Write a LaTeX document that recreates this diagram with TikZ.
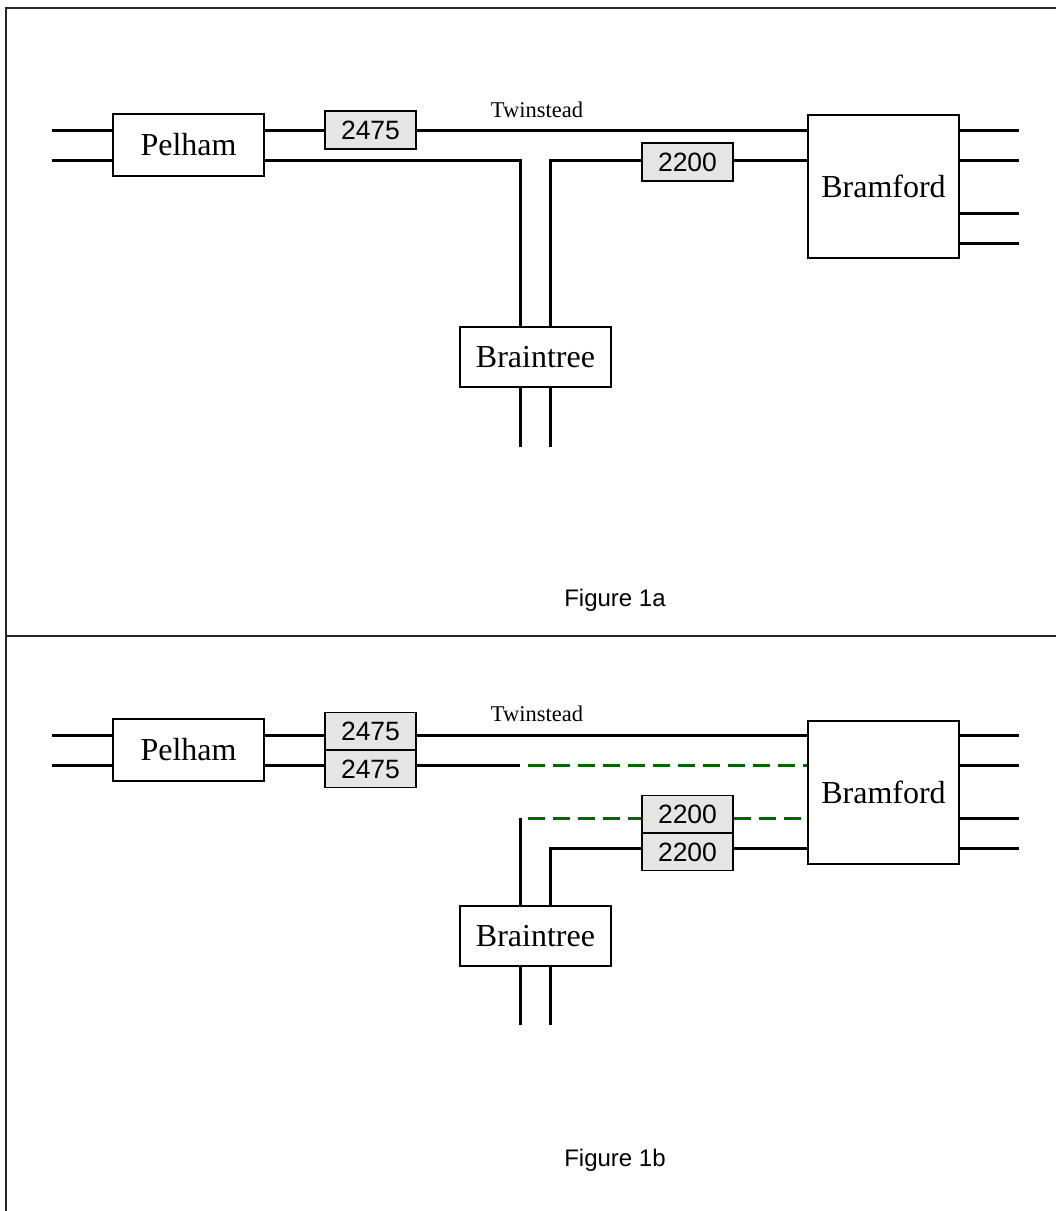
\documentclass[tikz,border=0pt]{standalone}
\usepackage{fontspec}
\setmainfont{Liberation Serif}
\newfontfamily\arialfont{Liberation Sans}
\begin{document}
\begin{tikzpicture}[x=1pt,y=-1pt,
  station/.style={draw, line width=1.2pt, fill=white, inner sep=0pt, minimum width=151pt, font=\fontsize{32}{35}\selectfont},
  circuit/.style={draw, line width=1.2pt, fill=black!10, inner sep=0pt, minimum width=91pt, minimum height=38pt, font=\arialfont\fontsize{26.5}{29}\selectfont},
  wire/.style={line width=3pt},
  newwire/.style={line width=3pt, draw=green!40!black, dash pattern=on 17pt off 8pt},
  frameline/.style={line width=1.8pt, draw=black!85},
  caption/.style={font=\arialfont\fontsize{24}{28}\selectfont, inner sep=0pt},
  smalllabel/.style={font=\fontsize{22.5}{25}\selectfont, inner sep=0pt}]
\useasboundingbox (0,0) rectangle (1056,1211);

% ---------------- frame ----------------
\coordinate (fTL) at (6,8);
\coordinate (fTR) at (1056,8);
\coordinate (fBL) at (6,1211);
\coordinate (fML) at (6,636);
\coordinate (fMR) at (1056,636);
\draw[frameline] (fBL) -- (fTL) -- (fTR);
\draw[frameline] (fML) -- (fMR);

% ================= Figure 1a =================
\node[station, minimum height=62pt] (pelA) at (188.5,145) {Pelham};
\node[station, minimum height=143pt] (bramA) at (883.5,186.5) {Bramford};
\node[station, minimum height=60pt] (braA) at (535.5,357) {Braintree};
\node[circuit] (cA1) at (370.5,130) {2475};
\node[circuit] (cA2) at (687.5,162) {2200};
\node[smalllabel] (twA) at (537,110) {Twinstead};
\node[caption] (figA) at (615,600) {Figure 1a};

\coordinate (aL1) at (52,130);
\coordinate (aL2) at (52,160);
\coordinate (aT1) at (520,160);
\coordinate (aT2) at (550,160);
\coordinate (aB1) at (520,447);
\coordinate (aB2) at (550,447);
\coordinate (aR1) at (1019,130);
\coordinate (aR2) at (1019,160);
\coordinate (aR3) at (1019,213);
\coordinate (aR4) at (1019,243);

\draw[wire] (aL1) -- (aL1 -| pelA.west);
\draw[wire] (aL2) -- (aL2 -| pelA.west);
\draw[wire] (pelA.east |- aL1) -- (cA1.west);
\draw[wire] (cA1.east) -- (bramA.west |- cA1.east);
\draw[wire] (pelA.east |- aT1) -- (aT1) -- (aT1 |- braA.north);
\draw[wire] (bramA.west |- aT2) -- (cA2.east |- aT2);
\draw[wire] (cA2.west |- aT2) -- (aT2) -- (aT2 |- braA.north);
\draw[wire] (aB1 |- braA.south) -- (aB1);
\draw[wire] (aB2 |- braA.south) -- (aB2);
\foreach \r in {aR1,aR2,aR3,aR4}
  \draw[wire] (bramA.east |- \r) -- (\r);

% ================= Figure 1b =================
\node[station, minimum height=62pt] (pelB) at (188.5,750) {Pelham};
\node[station, minimum height=143pt] (bramB) at (883.5,792.5) {Bramford};
\node[station, minimum height=60pt] (braB) at (535.5,936) {Braintree};
\node[circuit, minimum height=37pt, anchor=south] (cB1) at (370.5,750) {2475};
\node[circuit, minimum height=37pt, anchor=north] (cB2) at (370.5,750) {2475};
\node[circuit, minimum height=37pt, anchor=south] (cB3) at (687.5,833) {2200};
\node[circuit, minimum height=37pt, anchor=north] (cB4) at (687.5,833) {2200};
\node[smalllabel] (twB) at (537,714) {Twinstead};
\node[caption] (figB) at (615,1160) {Figure 1b};

\coordinate (bL1) at (52,735);
\coordinate (bL2) at (52,765);
\coordinate (bS1) at (520,765);
\coordinate (bD1) at (528,765);
\coordinate (bT1) at (520,818);
\coordinate (bD2) at (528,818);
\coordinate (bT2) at (550,848);
\coordinate (bB1) at (520,1025);
\coordinate (bB2) at (550,1025);
\coordinate (bR1) at (1019,735);
\coordinate (bR2) at (1019,765);
\coordinate (bR3) at (1019,818);
\coordinate (bR4) at (1019,848);

\draw[wire] (bL1) -- (bL1 -| pelB.west);
\draw[wire] (bL2) -- (bL2 -| pelB.west);
\draw[wire] (pelB.east |- bL1) -- (cB1.west |- bL1);
\draw[wire] (pelB.east |- bL2) -- (cB2.west |- bL2);
\draw[wire] (cB1.east |- bL1) -- (bramB.west |- bL1);
\draw[wire] (cB2.east |- bL2) -- (bS1);
\draw[newwire] (bD1) -- (bramB.west |- bD1);
\draw[newwire] (bD2) -- (cB3.west |- bD2);
\draw[newwire] (cB3.east |- bD2) -- (bramB.west |- bD2);
\draw[wire] (bT1) -- (bT1 |- braB.north);
\draw[wire] (bramB.west |- bT2) -- (cB4.east |- bT2);
\draw[wire] (cB4.west |- bT2) -- (bT2) -- (bT2 |- braB.north);
\draw[wire] (bB1 |- braB.south) -- (bB1);
\draw[wire] (bB2 |- braB.south) -- (bB2);
\foreach \r in {bR1,bR2,bR3,bR4}
  \draw[wire] (bramB.east |- \r) -- (\r);
\end{tikzpicture}
\end{document}
